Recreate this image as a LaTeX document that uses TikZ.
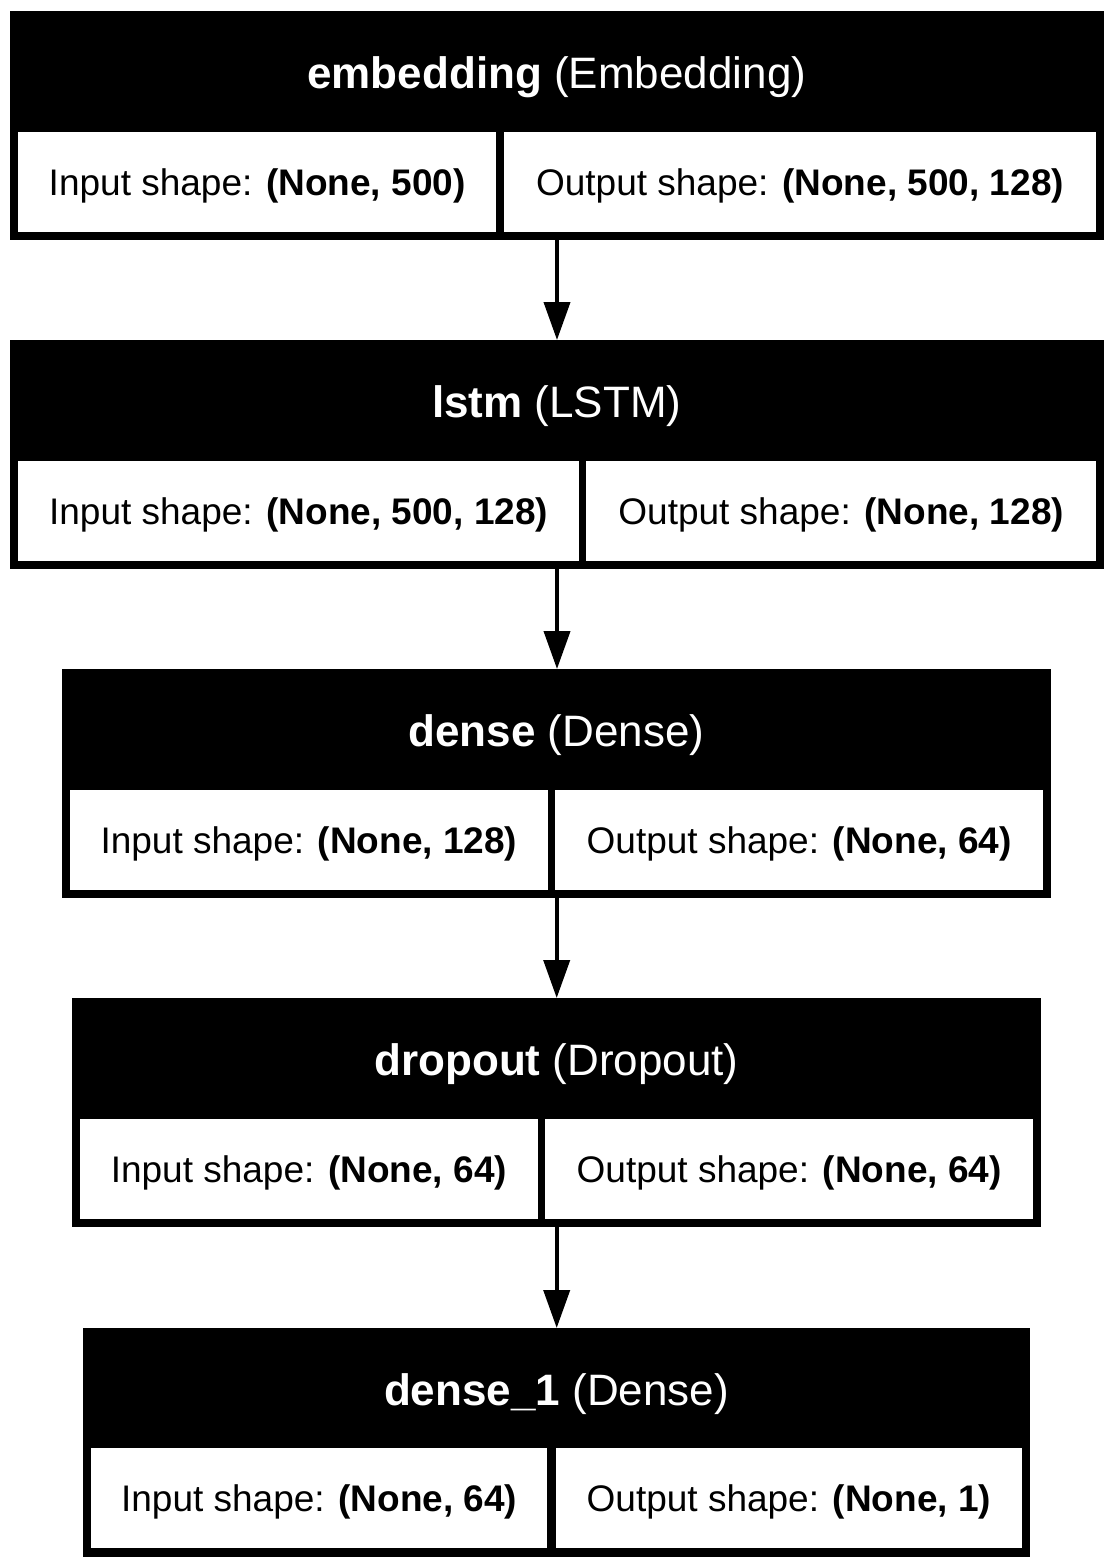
\documentclass[tikz,border=0pt]{standalone}
\usepackage{fontspec}
\setmainfont{Liberation Sans}
\usetikzlibrary{arrows.meta}
\newcommand{\cellfont}{\fontsize{37}{44}\selectfont}
\newcommand{\headfont}{\fontsize{44}{52}\selectfont}
\begin{document}
\begin{tikzpicture}[x=1pt,y=-1pt,
  blk/.style={rectangle, fill=black, draw=none, inner sep=0pt, anchor=north west, minimum height=229pt},
  cellbox/.style={rectangle, fill=white, draw=none, inner sep=0pt, anchor=north west, minimum height=100pt, text height=34pt, text depth=8pt, font=\cellfont, text=black},
  head/.style={anchor=base, text=white, font=\headfont, inner sep=0pt},
  conn/.style={line width=4pt, -{Triangle[length=38pt,width=26pt]}}
]
\fill[white] (0,0) rectangle (1113,1568);
\useasboundingbox (0,0) rectangle (1113,1568);

% block 1
\node[blk, minimum width=1094.4pt] (b1) at (9.6,11) {};
\node[head] (h1) at (556.8,88.5) {\textbf{embedding} (Embedding)};
\node[cellbox, minimum width=478.1pt] (i1) at (17.9,132) {Input shape: \textbf{(None, 500)}};
\node[cellbox, minimum width=592.4pt] (o1) at (503.6,132) {Output shape: \textbf{(None, 500, 128)}};

% block 2
\node[blk, minimum width=1094.4pt] (b2) at (9.6,340) {};
\node[head] (h2) at (556.8,417.5) {\textbf{lstm} (LSTM)};
\node[cellbox, minimum width=561.1pt] (i2) at (17.9,461) {Input shape: \textbf{(None, 500, 128)}};
\node[cellbox, minimum width=510pt] (o2) at (586,461) {Output shape: \textbf{(None, 128)}};

% block 3
\node[blk, minimum width=989pt] (b3) at (62,669) {};
\node[head] (h3) at (556.5,746.5) {\textbf{dense} (Dense)};
\node[cellbox, minimum width=477.5pt] (i3) at (70,790) {Input shape: \textbf{(None, 128)}};
\node[cellbox, minimum width=488pt] (o3) at (555,790) {Output shape: \textbf{(None, 64)}};

% block 4
\node[blk, minimum width=969pt] (b4) at (72,998) {};
\node[head] (h4) at (556.5,1075.5) {\textbf{dropout} (Dropout)};
\node[cellbox, minimum width=457.4pt] (i4) at (80,1119) {Input shape: \textbf{(None, 64)}};
\node[cellbox, minimum width=488pt] (o4) at (545,1119) {Output shape: \textbf{(None, 64)}};

% block 5
\node[blk, minimum width=947pt] (b5) at (83,1328) {};
\node[head] (h5) at (556.5,1405.5) {\textbf{dense\_1} (Dense)};
\node[cellbox, minimum width=456pt] (i5) at (91,1448) {Input shape: \textbf{(None, 64)}};
\node[cellbox, minimum width=466.6pt] (o5) at (555.4,1448) {Output shape: \textbf{(None, 1)}};

% connectors
\draw[conn] (b1.south) -- (b1.south |- b2.north);
\draw[conn] (b2.south) -- (b2.south |- b3.north);
\draw[conn] (b3.south) -- (b3.south |- b4.north);
\draw[conn] (b4.south) -- (b4.south |- b5.north);
\end{tikzpicture}
\end{document}
